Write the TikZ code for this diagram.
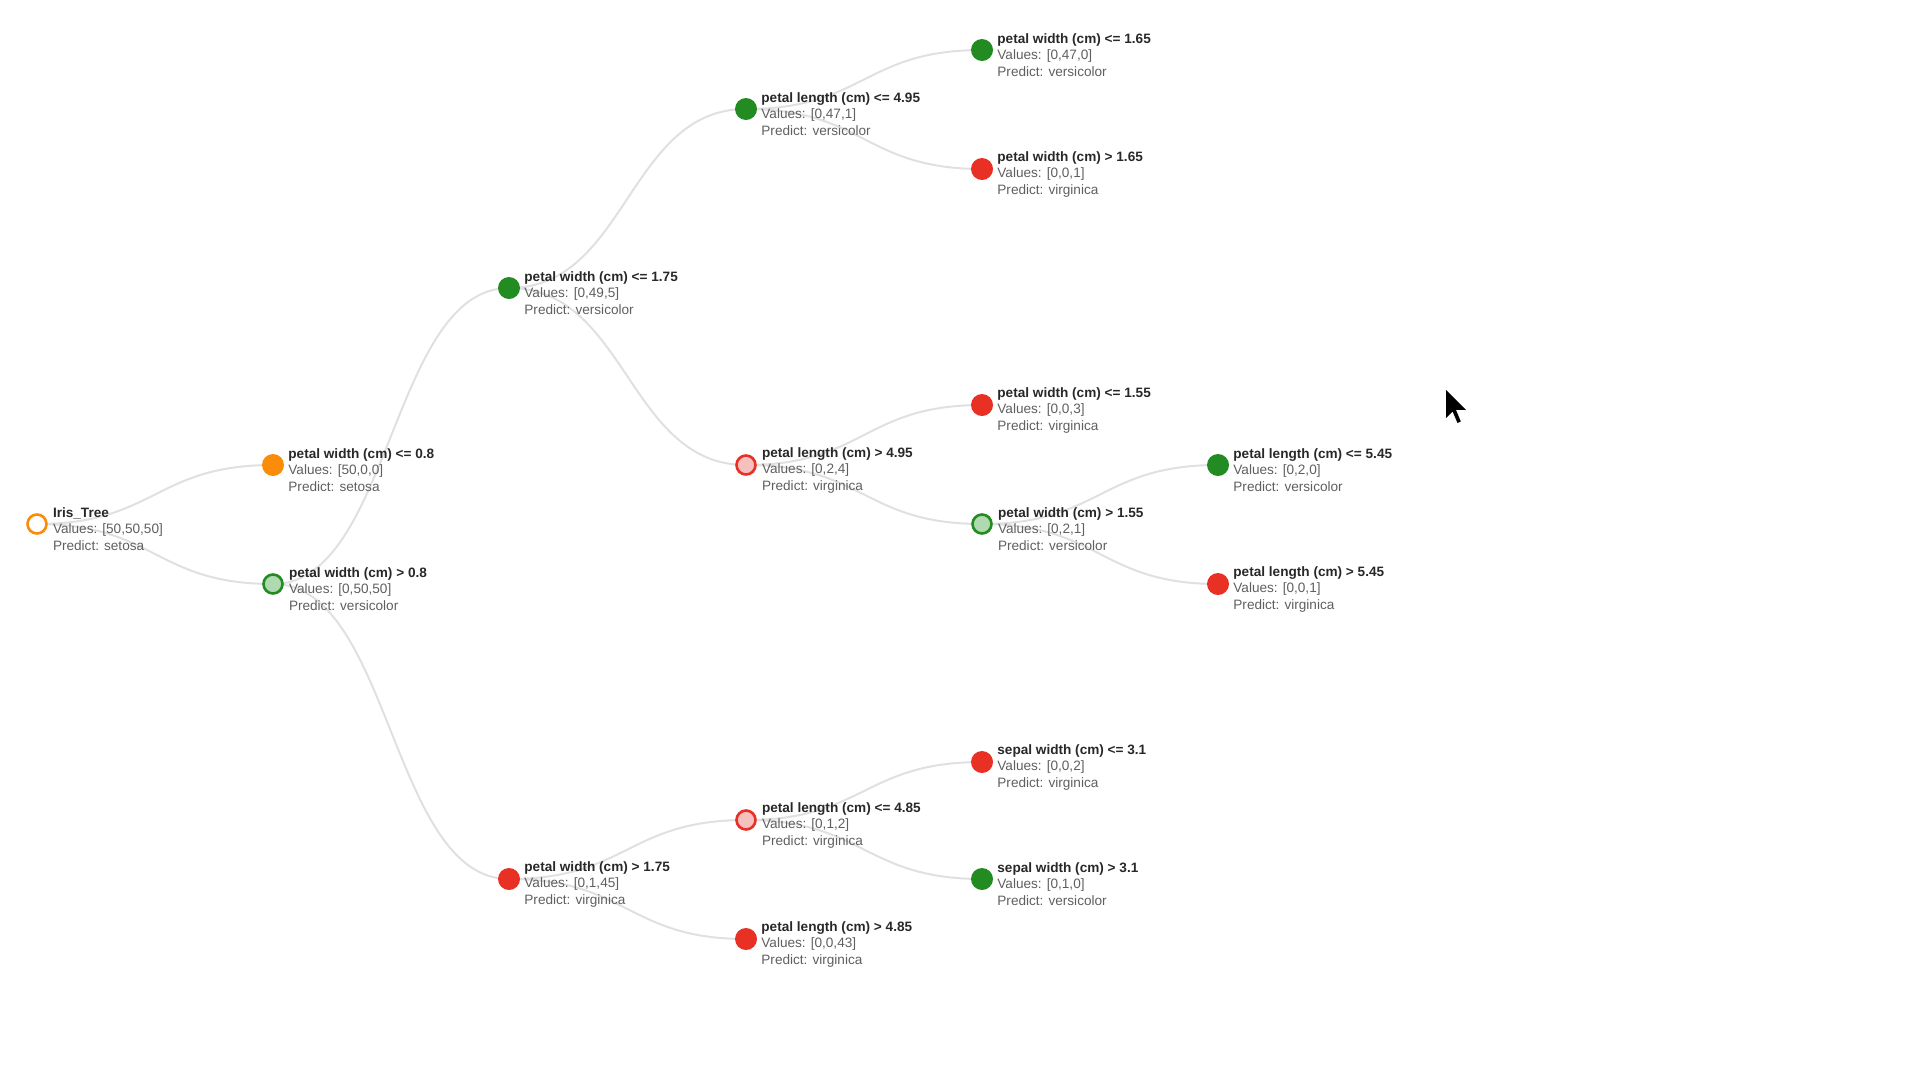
\documentclass[tikz,border=0pt]{standalone}
\usepackage{fontspec}
\setmainfont{Liberation Sans}
\usepackage{xcolor}
\usetikzlibrary{
    positioning,
    backgrounds
}
\definecolor{setosa}{RGB}{250,140,10}
\definecolor{versi}{RGB}{34,140,34}
\definecolor{virgi}{RGB}{232,48,36}
\definecolor{versilt}{RGB}{175,218,175}
\definecolor{virgilt}{RGB}{246,192,190}
\definecolor{linkgray}{RGB}{224,224,224}
\definecolor{headtext}{RGB}{40,40,40}
\definecolor{bodytext}{RGB}{95,95,95}
\tikzset{
    leaf/.style={circle, minimum size=22pt, inner sep=0pt, fill=#1},
    open/.style 2 args={circle, minimum size=19pt, inner sep=0pt, line width=2.6pt, draw=#1, fill=#2},
    info/.style={inner sep=0pt, align=left, text=bodytext,
        font=\fontsize{13.6pt}{16.5pt}\selectfont},
    link/.style={draw=linkgray, line width=2pt, out=0, in=180, distance=118pt}
}
\newcommand{\head}[1]{{\color{headtext}\bfseries #1}}

\begin{document}
\begin{tikzpicture}[x=1pt, y=-1pt]
                    \useasboundingbox (0, 0) rectangle (1920, 1080);
                    \node[open={setosa}{white}] (rt) at (37, 524) {};
                    \node[leaf=setosa] (wa) at (273, 465) {};
                    \node[open={versi}{versilt}] (wb) at (273, 584) {};
                    \node[leaf=versi] (wc) at (509, 288) {};
                    \node[leaf=virgi] (wd) at (509, 879) {};
                    \node[leaf=versi] (la) at (746, 109) {};
                    \node[open={virgi}{virgilt}] (lb) at (746, 465) {};
                    \node[open={virgi}{virgilt}] (lc) at (746, 820) {};
                    \node[leaf=virgi] (ld) at (746, 939) {};
                    \node[leaf=versi] (we) at (982, 50) {};
                    \node[leaf=virgi] (wf) at (982, 169) {};
                    \node[leaf=virgi] (wg) at (982, 405) {};
                    \node[open={versi}{versilt}] (wh) at (982, 524) {};
                    \node[leaf=virgi] (sa) at (982, 762) {};
                    \node[leaf=versi] (sb) at (982, 879) {};
                    \node[leaf=versi] (le) at (1218, 465) {};
                    \node[leaf=virgi] (lf) at (1218, 584) {};
                    % texts
                    \node[info, right=5pt of rt, yshift=-5pt] (rt-t) {\head{Iris\_Tree}\\Values: [50,50,50]\\Predict: setosa};
                    \node[info, right=4pt of wa, yshift=-5pt] (wa-t) {\head{petal width (cm) <= 0.8}\\Values: [50,0,0]\\Predict: setosa};
                    \node[info, right=5pt of wb, yshift=-5pt] (wb-t) {\head{petal width (cm) > 0.8}\\Values: [0,50,50]\\Predict: versicolor};
                    \node[info, right=4pt of wc, yshift=-5pt] (wc-t) {\head{petal width (cm) <= 1.75}\\Values: [0,49,5]\\Predict: versicolor};
                    \node[info, right=4pt of wd, yshift=-5pt] (wd-t) {\head{petal width (cm) > 1.75}\\Values: [0,1,45]\\Predict: virginica};
                    \node[info, right=4pt of la, yshift=-5pt] (la-t) {\head{petal length (cm) <= 4.95}\\Values: [0,47,1]\\Predict: versicolor};
                    \node[info, right=5pt of lb, yshift=-5pt] (lb-t) {\head{petal length (cm) > 4.95}\\Values: [0,2,4]\\Predict: virginica};
                    \node[info, right=5pt of lc, yshift=-5pt] (lc-t) {\head{petal length (cm) <= 4.85}\\Values: [0,1,2]\\Predict: virginica};
                    \node[info, right=4pt of ld, yshift=-5pt] (ld-t) {\head{petal length (cm) > 4.85}\\Values: [0,0,43]\\Predict: virginica};
                    \node[info, right=4pt of we, yshift=-5pt] (we-t) {\head{petal width (cm) <= 1.65}\\Values: [0,47,0]\\Predict: versicolor};
                    \node[info, right=4pt of wf, yshift=-5pt] (wf-t) {\head{petal width (cm) > 1.65}\\Values: [0,0,1]\\Predict: virginica};
                    \node[info, right=4pt of wg, yshift=-5pt] (wg-t) {\head{petal width (cm) <= 1.55}\\Values: [0,0,3]\\Predict: virginica};
                    \node[info, right=5pt of wh, yshift=-5pt] (wh-t) {\head{petal width (cm) > 1.55}\\Values: [0,2,1]\\Predict: versicolor};
                    \node[info, right=4pt of sa, yshift=-5pt] (sa-t) {\head{sepal width (cm) <= 3.1}\\Values: [0,0,2]\\Predict: virginica};
                    \node[info, right=4pt of sb, yshift=-5pt] (sb-t) {\head{sepal width (cm) > 3.1}\\Values: [0,1,0]\\Predict: versicolor};
                    \node[info, right=4pt of le, yshift=-5pt] (le-t) {\head{petal length (cm) <= 5.45}\\Values: [0,2,0]\\Predict: versicolor};
                    \node[info, right=4pt of lf, yshift=-5pt] (lf-t) {\head{petal length (cm) > 5.45}\\Values: [0,0,1]\\Predict: virginica};
                    % links under everything
                    \begin{scope}[on background layer]
                    \draw
                    (rt.center) edge[link] (wa.center)
                    (rt.center) edge[link] (wb.center)
                    (wb.center) edge[link] (wc.center)
                    (wb.center) edge[link] (wd.center)
                    (wc.center) edge[link] (la.center)
                    (wc.center) edge[link] (lb.center)
                    (wd.center) edge[link] (lc.center)
                    (wd.center) edge[link] (ld.center)
                    (la.center) edge[link] (we.center)
                    (la.center) edge[link] (wf.center)
                    (lb.center) edge[link] (wg.center)
                    (lb.center) edge[link] (wh.center)
                    (lc.center) edge[link] (sa.center)
                    (lc.center) edge[link] (sb.center)
                    (wh.center) edge[link] (le.center)
                    (wh.center) edge[link] (lf.center);
                    \end{scope}
                    % mouse pointer
                    \fill[black] (1446, 390) -- (1446, 418) -- (1452.6, 411.5) -- (1457.5, 423) -- (1460.8, 421.4) -- (1455.9, 409.8) -- (1465.8, 409.8) -- cycle;
                \end{tikzpicture}
\end{document}
